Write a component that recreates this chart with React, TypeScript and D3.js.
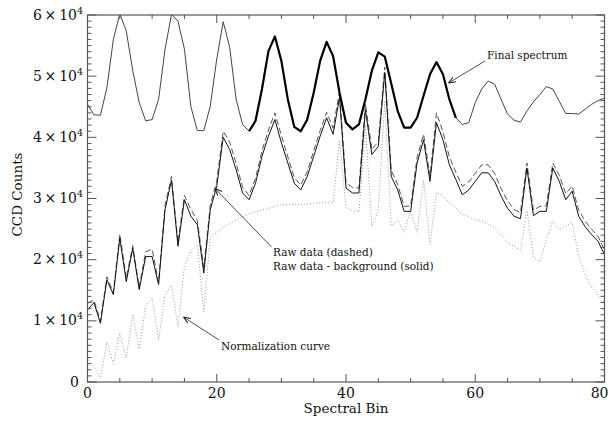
import React from 'react';
import * as d3 from 'd3';

// ---- Data (CCD counts per spectral bin 0..80) ----
const finalSpectrum = [
  45400, 43700, 43600, 48100, 56000, 60200, 57400, 50900, 45700, 42700,
  42900, 46200, 54400, 60100, 59000, 54400, 45000, 41100, 41100, 45100,
  52800, 58900, 54700, 46200, 42100, 41000, 42700, 47900, 54100, 56500,
  52500, 46200, 41700, 41000, 42900, 47300, 52500, 55600, 53300, 47300,
  42400, 41300, 42100, 46200, 50900, 53900, 53200, 48800, 44300, 41600,
  41600, 43200, 46800, 50300, 52300, 50300, 46200, 43200, 42100, 42400,
  45700, 47900, 49200, 48700, 46200, 43800, 42800, 42500, 44300, 45800,
  47000, 48300, 47900, 45900, 43900, 43900, 43800, 44600, 45400, 46000,
  46400,
];

const rawData = [
  12900, 13400, 9900, 17200, 14600, 24200, 17000, 22300, 15500, 21300,
  21700, 16300, 28900, 33600, 22800, 30500, 28200, 26400, 18700, 28900,
  32800, 41000, 39200, 35800, 31800, 30500, 33300, 37800, 41200, 44000,
  40300, 36800, 33400, 32200, 34400, 37800, 41100, 44100, 41500, 47500,
  32600, 31800, 31700, 45500, 38000, 39300, 51500, 34600, 32300, 28700,
  28800, 36700, 40500, 33700, 44000, 40900, 36800, 34300, 32000, 32700,
  34100, 35500, 35500, 34100, 31600, 29600, 28200, 27700, 35800, 28100,
  28700, 28800, 35800, 33800, 30800, 32000, 28100, 26300, 25000, 23800,
  21600,
];

const rawMinusBackground = [
  11800, 13000, 9600, 16700, 14300, 23500, 16400, 21900, 15100, 20500,
  20500, 15900, 28200, 33000, 22200, 29800, 27100, 25700, 17800, 28200,
  32000, 40000, 38000, 34700, 30900, 29800, 32500, 36900, 40200, 42900,
  39100, 35800, 32500, 31400, 33600, 36900, 40200, 43200, 40500, 46500,
  31700, 30900, 30900, 44500, 37200, 38500, 50600, 33600, 31400, 27900,
  27900, 35800, 39600, 32800, 42400, 39600, 35500, 33100, 30600, 31400,
  32800, 34200, 34200, 32800, 30400, 28400, 27100, 26700, 35000, 27200,
  27900, 27900, 35000, 32800, 29800, 31200, 27100, 25400, 24100, 23000,
  20800,
];

const normalization = [
  3900, 2500, 700, 6500, 3000, 8000, 3900, 11000, 5400, 12500,
  13800, 6900, 14200, 15800, 9000, 18900, 21400, 22400, 11500, 23800,
  24400, 25300, 25900, 26500, 27000, 27500, 27800, 28100, 28400, 28700,
  29000, 29000, 29000, 29000, 29100, 29200, 29300, 29300, 29300, 39500,
  28500, 28000, 27800, 42000, 25500, 28000, 46000, 25500, 26500, 24500,
  28000, 24500, 33000, 22500, 31000, 30500, 29300, 28500, 27400, 27000,
  26500, 26300, 25800, 25200, 24100, 22700, 22200, 21500, 28000, 20500,
  19700, 23300, 26300, 24900, 25500, 26000, 20500, 17500, 15500, 14200,
  13000,
];

const boldStart = 25;
const boldEnd = 57;

const xMajorTicks = [0, 20, 40, 60, 80];
const yMajorTicks = [0, 1, 2, 3, 4, 5, 6]; // in units of 10^4

// ---- Layout ----
const W = 610;
const H = 421;
const left = 87.5;
const right = 604.5;
const top = 15;
const bottom = 382;

const FONT = '"DejaVu Serif", "Liberation Serif", serif';

export default function App() {
  const x = d3.scaleLinear().domain([0, 80]).range([left, right]);
  const y = d3.scaleLinear().domain([0, 60000]).range([bottom, top]);

  const line = d3
    .line<number>()
    .x((_, i) => x(i))
    .y((d) => y(d));
  const boldLine = d3
    .line<number>()
    .x((_, i) => x(i + boldStart))
    .y((d) => y(d));

  const xMinor = d3.range(0, 81, 5).filter((v) => v % 20 !== 0);
  const yMinor = d3.range(0, 60001, 1000).filter((v) => v % 10000 !== 0);

  const axisColor = '#555';

  return (
    <svg
      width={W}
      height={H}
      style={{ position: 'absolute', left: 0, top: 0, background: '#fff' }}
      fontFamily={FONT}
    >
      <defs>
        <clipPath id="plotclip">
          <rect x={left} y={top} width={right - left} height={bottom - top} />
        </clipPath>
        <marker
          id="arrow"
          viewBox="0 0 10 10"
          refX="10"
          refY="5"
          markerWidth="7"
          markerHeight="7"
          orient="auto"
          markerUnits="userSpaceOnUse"
        >
          <path d="M0,1 L10,5 L0,9" fill="none" stroke="#222" strokeWidth="1.5" />
        </marker>
      </defs>

      <g clipPath="url(#plotclip)" fill="none">
        <path d={line(normalization) || ''} stroke="#999" strokeWidth={1} strokeDasharray="1,2" />
        <path d={line(rawData) || ''} stroke="#555" strokeWidth={1} strokeDasharray="6,3" />
        <path d={line(rawMinusBackground) || ''} stroke="#111" strokeWidth={1} />
        <path d={line(finalSpectrum) || ''} stroke="#444" strokeWidth={1} />
        <path
          d={boldLine(finalSpectrum.slice(boldStart, boldEnd + 1)) || ''}
          stroke="#000"
          strokeWidth={2.2}
          strokeLinejoin="round"
        />
      </g>

      {/* frame */}
      <rect
        x={left}
        y={top}
        width={right - left}
        height={bottom - top}
        fill="none"
        stroke={axisColor}
        strokeWidth={1.2}
      />

      {/* x ticks */}
      {xMajorTicks.map((v, i) => (
        <g key={'xM' + v}>
          <line x1={x(v)} x2={x(v)} y1={bottom} y2={bottom - 8} stroke={axisColor} />
          <line x1={x(v)} x2={x(v)} y1={top} y2={top + 8} stroke={axisColor} />
          <text
            x={i === xMajorTicks.length - 1 ? W - 1.5 : x(v)}
            y={398}
            textAnchor={i === xMajorTicks.length - 1 ? 'end' : 'middle'}
            fontSize={14}
            fill="#111"
          >
            {v}
          </text>
        </g>
      ))}
      {xMinor.map((v) => (
        <g key={'xm' + v}>
          <line x1={x(v)} x2={x(v)} y1={bottom} y2={bottom - 4} stroke={axisColor} />
          <line x1={x(v)} x2={x(v)} y1={top} y2={top + 4} stroke={axisColor} />
        </g>
      ))}

      {/* y ticks */}
      {yMajorTicks.map((v) => (
        <g key={'yM' + v}>
          <line x1={left} x2={left + 9} y1={y(v * 10000)} y2={y(v * 10000)} stroke={axisColor} />
          <line x1={right} x2={right - 9} y1={y(v * 10000)} y2={y(v * 10000)} stroke={axisColor} />
          {v === 0 ? (
            <text x={79} y={y(0) + 4.5} textAnchor="end" fontSize={14} fill="#111">
              0
            </text>
          ) : (
            <text x={83} y={y(v * 10000) + 4.5} textAnchor="end" fontSize={14} fill="#111">
              {v + '\u2009×\u200910'}
              <tspan dy={-6} fontSize={9.5}>
                4
              </tspan>
            </text>
          )}
        </g>
      ))}
      {yMinor.map((v) => (
        <g key={'ym' + v}>
          <line x1={left} x2={left + 4} y1={y(v)} y2={y(v)} stroke={axisColor} />
          <line x1={right} x2={right - 4} y1={y(v)} y2={y(v)} stroke={axisColor} />
        </g>
      ))}

      {/* axis titles */}
      <text x={(left + right) / 2} y={413} textAnchor="middle" fontSize={13.5} fill="#111">
        Spectral Bin
      </text>
      <text
        transform={`translate(22,${(top + bottom) / 2 - 4}) rotate(-90)`}
        textAnchor="middle"
        fontSize={13.5}
        fill="#111"
      >
        CCD Counts
      </text>

      {/* annotations */}
      <line x1={485} y1={61} x2={448.5} y2={83} stroke="#222" strokeWidth={0.8} markerEnd="url(#arrow)" />
      <text x={487} y={59} fontSize={10.5} fill="#111">
        Final spectrum
      </text>

      <line x1={271.5} y1={247} x2={215} y2={188.5} stroke="#222" strokeWidth={0.8} markerEnd="url(#arrow)" />
      <text x={273} y={256} fontSize={10.5} fill="#111">
        Raw data (dashed)
      </text>
      <text x={273} y={270} fontSize={10.5} fill="#111">
        Raw data - background (solid)
      </text>

      <line x1={219} y1={340} x2={183.5} y2={317} stroke="#222" strokeWidth={0.8} markerEnd="url(#arrow)" />
      <text x={221} y={350} fontSize={10.5} fill="#111">
        Normalization curve
      </text>
    </svg>
  );
}
